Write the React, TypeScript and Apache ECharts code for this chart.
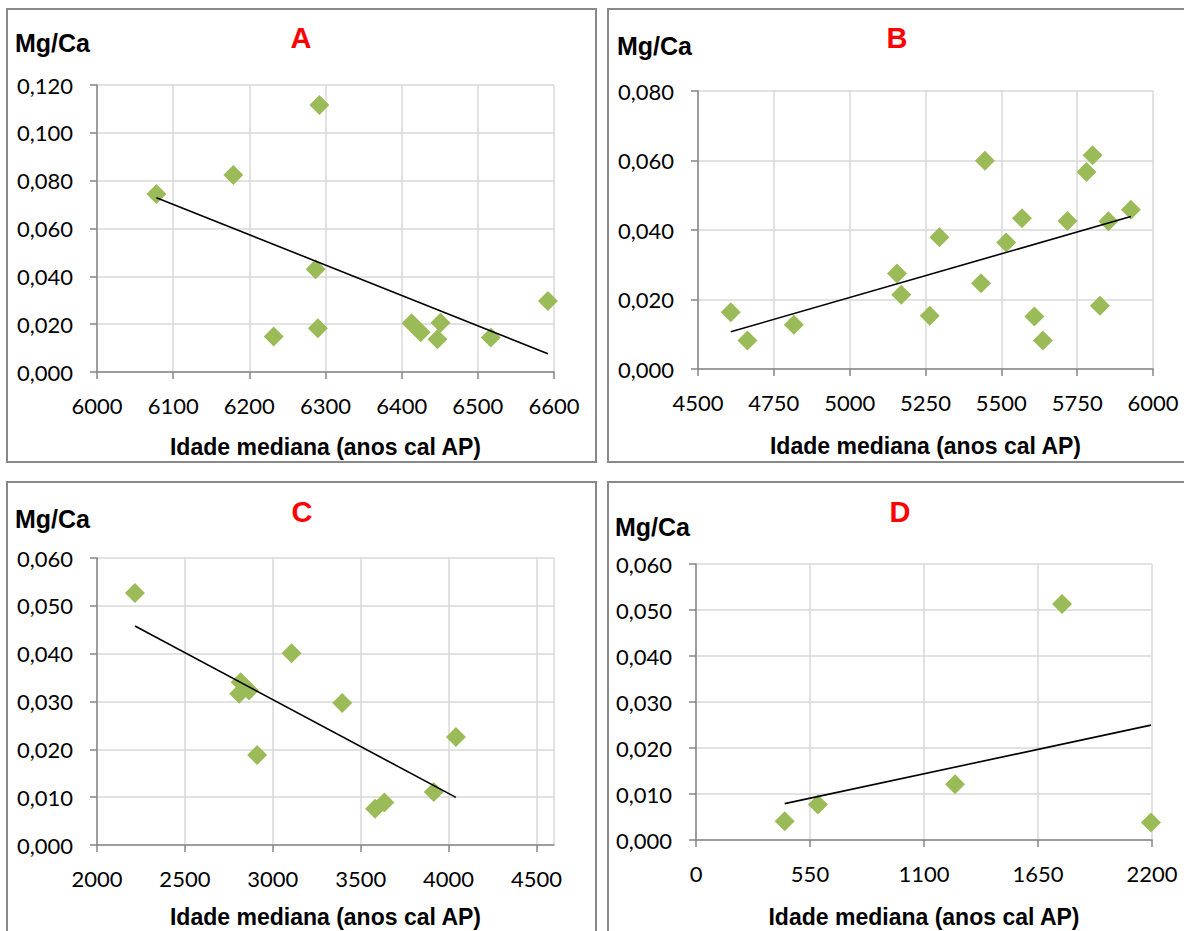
import React, { useEffect, useRef } from "react";
import * as echarts from "echarts";

// Panel A
const AGE_A = [6078, 6179, 6292, 6287, 6232, 6290, 6413, 6425, 6447, 6451, 6517, 6592];
const MGCA_A = [0.0744, 0.0824, 0.1116, 0.043, 0.0148, 0.0183, 0.0204, 0.0166, 0.0137, 0.0206, 0.0144, 0.0297];
// Panel B
const AGE_B = [4608, 4663, 4816, 5156, 5170, 5264, 5296, 5433, 5446, 5516, 5568, 5609, 5637, 5718, 5781, 5801, 5825, 5853, 5927];
const MGCA_B = [0.0163, 0.0082, 0.0127, 0.0275, 0.0214, 0.0153, 0.0379, 0.0247, 0.0599, 0.0364, 0.0434, 0.0151, 0.0082, 0.0426, 0.0567, 0.0615, 0.0182, 0.0425, 0.0458];
// Panel C
const AGE_C = [2216, 2817, 2809, 2865, 2911, 3107, 3395, 3582, 3635, 3916, 4042];
const MGCA_C = [0.0527, 0.034, 0.0316, 0.0323, 0.0188, 0.0401, 0.0297, 0.0076, 0.0089, 0.0111, 0.0226];
// Panel D
const AGE_D = [428, 588, 1250, 1766, 2195];
const MGCA_D = [0.0041, 0.0077, 0.0121, 0.0513, 0.0038];

const PANEL_LETTERS = ["A", "B", "C", "D"];
const Y_TITLE = "Mg/Ca";
const X_TITLE = "Idade mediana (anos cal AP)";

const X_MIN = [6000, 4500, 2000, 0];
const X_MAX = [6600, 6000, 4600, 2200];
const X_STEP = [100, 250, 500, 550];
const Y_MAX = [0.12, 0.08, 0.06, 0.06];
const Y_STEP = [0.02, 0.02, 0.01, 0.01];

function fit(xs: number[], ys: number[]) {
  const n = xs.length;
  const mx = xs.reduce((a, b) => a + b, 0) / n;
  const my = ys.reduce((a, b) => a + b, 0) / n;
  let sxy = 0, sxx = 0;
  for (let i = 0; i < n; i++) {
    sxy += (xs[i] - mx) * (ys[i] - my);
    sxx += (xs[i] - mx) * (xs[i] - mx);
  }
  const b = sxy / sxx;
  const a = my - b * mx;
  const x0 = Math.min(...xs), x1 = Math.max(...xs);
  return [[x0, a + b * x0], [x1, a + b * x1]];
}

export default function App() {
  const ref = useRef<HTMLDivElement>(null);
  useEffect(() => {
    if (!ref.current) return;
    const chart = echarts.init(ref.current, null, { renderer: "svg" });
    const ages = [AGE_A, AGE_B, AGE_C, AGE_D];
    const vals = [MGCA_A, MGCA_B, MGCA_C, MGCA_D];
    const grids = [
      { left: 97, top: 85, width: 457, height: 287 },
      { left: 698, top: 91, width: 455, height: 278 },
      { left: 97, top: 558, width: 457, height: 287 },
      { left: 696, top: 564, width: 456, height: 276 },
    ];
    const nameGaps = [63, 65, 60, 65];
    const tickLabel = { fontFamily: "Lato", fontSize: 22, color: "#000" };
    const axisGray = "#868686";
    const xAxis = grids.map((_, i) => ({
      type: "value",
      gridIndex: i,
      min: X_MIN[i],
      max: X_MAX[i],
      interval: X_STEP[i],
      name: X_TITLE,
      nameLocation: "middle",
      nameGap: nameGaps[i],
      nameTextStyle: { fontFamily: "Liberation Sans", fontWeight: "bold", fontSize: 23, color: "#000" },
      axisLine: { show: true, onZero: false, lineStyle: { color: axisGray, width: 1.5 } },
      axisTick: { show: true, inside: false, length: 7, lineStyle: { color: axisGray, width: 1.5 } },
      axisLabel: {
        ...tickLabel,
        margin: 22,
        showMaxLabel: i !== 2,
        hideOverlap: false,
        formatter: (v: number) => String(Math.round(v)),
      },
      splitLine: { show: true, lineStyle: { color: "#d9d9d9", width: 1.5 } },
    }));
    const yAxis = grids.map((_, i) => ({
      type: "value",
      gridIndex: i,
      min: 0,
      max: Y_MAX[i],
      interval: Y_STEP[i],
      axisLine: { show: true, lineStyle: { color: axisGray, width: 1.5 } },
      axisTick: { show: true, inside: false, length: 7, lineStyle: { color: axisGray, width: 1.5 } },
      axisLabel: {
        ...tickLabel,
        margin: 24,
        formatter: (v: number) => v.toFixed(3).replace(".", ","),
      },
      splitLine: { show: true, lineStyle: { color: "#d9d9d9", width: 1.5 } },
    }));
    const series: any[] = [];
    for (let i = 0; i < 4; i++) {
      series.push({
        type: "scatter",
        xAxisIndex: i,
        yAxisIndex: i,
        symbol: "diamond",
        symbolSize: 20,
        itemStyle: { color: "#9bbb59", opacity: 1 },
        data: ages[i].map((x, k) => [x, vals[i][k]]),
        z: 3,
      });
      series.push({
        type: "line",
        xAxisIndex: i,
        yAxisIndex: i,
        symbol: "none",
        lineStyle: { color: "#000", width: 1.6 },
        data: fit(ages[i], vals[i]),
        z: 4,
      });
    }
    const borders = [
      [7, 9, 589, 453],
      [608, 9, 580, 453],
      [7, 482, 589, 470],
      [608, 482, 590, 470],
    ];
    const yTitlePos = [[15, 43], [617, 46], [15, 519], [615, 527]];
    const letterPos = [[301, 38], [897, 38], [302, 512], [900, 512]];
    const graphic: any[] = [];
    borders.forEach(([x, y, w, h]) => {
      graphic.push({
        type: "rect",
        shape: { x, y, width: w, height: h },
        style: { fill: "none", stroke: "#898989", lineWidth: 2 },
        z: -1,
      });
    });
    yTitlePos.forEach(([x, y]) => {
      graphic.push({
        type: "text",
        x,
        y,
        style: {
          text: Y_TITLE,
          font: "bold 25px 'Liberation Sans'",
          fill: "#000",
          textAlign: "left",
          textVerticalAlign: "middle",
        },
      });
    });
    letterPos.forEach(([x, y], i) => {
      graphic.push({
        type: "text",
        x,
        y,
        style: {
          text: PANEL_LETTERS[i],
          font: "bold 29px 'Liberation Sans'",
          fill: "#ff0000",
          textAlign: "center",
          textVerticalAlign: "middle",
        },
      });
    });
    chart.setOption({
      animation: false,
      backgroundColor: "#fff",
      grid: grids.map((g) => ({ ...g, containLabel: false })),
      xAxis,
      yAxis,
      series,
      graphic,
    });
    return () => chart.dispose();
  }, []);
  return (
    <div
      ref={ref}
      style={{ position: "fixed", left: 0, top: 0, width: 1184, height: 931, background: "#fff" }}
    />
  );
}
